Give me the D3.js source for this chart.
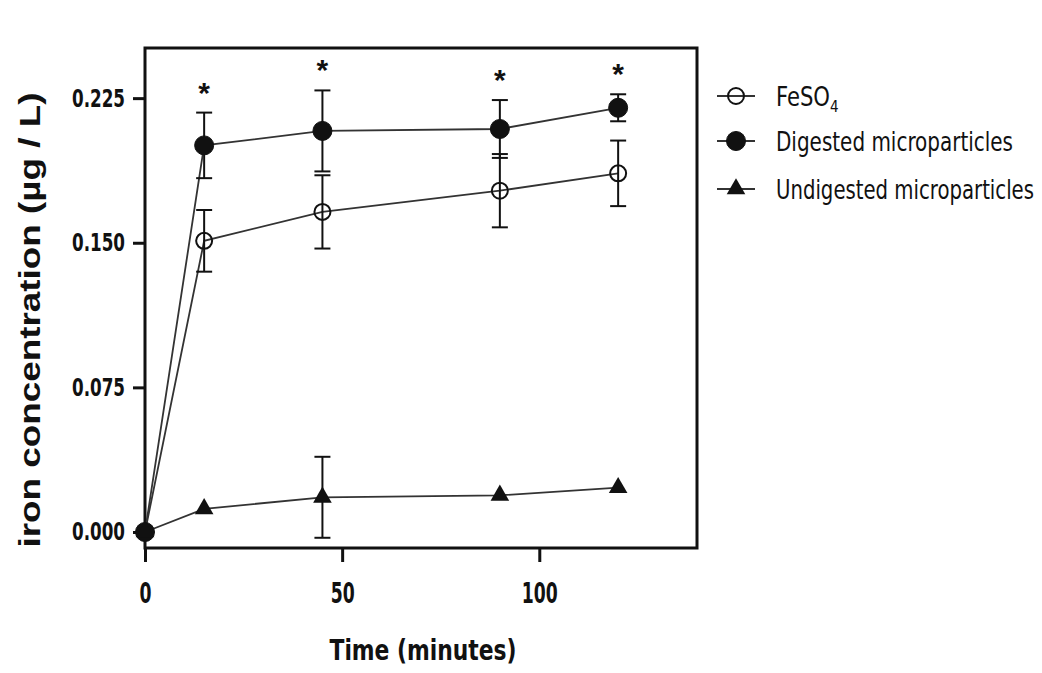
<!DOCTYPE html>
<html>
<head>
<meta charset="utf-8">
<script src="https://cdn.jsdelivr.net/npm/d3@7"></script>
<style>
  body { margin: 0; background: #fff; }
  svg { display: block; }
</style>
</head>
<body>
<svg id="chart" width="1042" height="673"></svg>
<script>
// Data
const times = [0, 15, 45, 90, 120];
const feso4 = [0, 0.151, 0.166, 0.177, 0.186];
const feso4Err = [0, 0.016, 0.019, 0.019, 0.017];
const digested = [0, 0.2005, 0.208, 0.209, 0.220];
const digestedErr = [0, 0.017, 0.021, 0.015, 0.007];
const undigested = [0, 0.012, 0.018, 0.019, 0.023];
const undigestedErr = [0, 0, 0.021, 0, 0];
const starTimes = [15, 45, 90, 120];
const yTicks = [0, 0.075, 0.15, 0.225];
const xTicks = [0, 50, 100];
const seriesNames = ["FeSO4", "Digested microparticles", "Undigested microparticles"];

const svg = d3.select("#chart");
const narrow = "'Liberation Sans Narrow', 'DejaVu Sans Condensed', Arial, sans-serif";
const ink = "#111";

// Scales
const x = d3.scaleLinear().domain([0, 140]).range([145, 697]);
const y = d3.scaleLinear().domain([-0.0083, 0.251]).range([548, 48]);

// Plot box
svg.append("rect")
  .attr("x", x(0)).attr("y", y(0.251))
  .attr("width", x(140) - x(0)).attr("height", y(-0.0083) - y(0.251))
  .attr("fill", "none").attr("stroke", ink).attr("stroke-width", 3);

// Axes
const yAxis = svg.append("g")
  .attr("transform", `translate(${x(0)},0)`)
  .call(d3.axisLeft(y).tickValues(yTicks).tickSize(12).tickPadding(8).tickFormat(d3.format(".3f")));
const xAxis = svg.append("g")
  .attr("transform", `translate(0,${y(-0.0083)})`)
  .call(d3.axisBottom(x).tickValues(xTicks).tickSize(14).tickPadding(21));

[yAxis, xAxis].forEach(ax => {
  ax.select(".domain").remove();
  ax.selectAll(".tick line").attr("stroke", ink).attr("stroke-width", 3);
  ax.selectAll(".tick text")
    .attr("fill", ink)
    .style("font-family", narrow)
    .style("font-weight", "bold")
    .style("font-size", "25px");
});
yAxis.selectAll(".tick text").attr("textLength", 53).attr("lengthAdjust", "spacingAndGlyphs");
xAxis.selectAll(".tick text")
  .style("font-size", "28px")
  .attr("textLength", d => String(d).length * 12)
  .attr("lengthAdjust", "spacingAndGlyphs");

// Axis titles
svg.append("text")
  .attr("x", 423).attr("y", 660)
  .attr("text-anchor", "middle")
  .attr("textLength", 187).attr("lengthAdjust", "spacingAndGlyphs")
  .style("font-family", narrow).style("font-weight", "bold").style("font-size", "29px")
  .attr("fill", ink)
  .text("Time (minutes)");

svg.append("text")
  .attr("transform", "translate(40,320) rotate(-90)")
  .attr("text-anchor", "middle")
  .attr("textLength", 455).attr("lengthAdjust", "spacingAndGlyphs")
  .style("font-family", "'Liberation Sans', Arial, sans-serif").style("font-weight", "bold").style("font-size", "30px")
  .attr("fill", ink)
  .text("iron concentration (µg / L)");

// Series
const series = [
  { name: seriesNames[0], vals: feso4, errs: feso4Err, shape: "open", w: 68 },
  { name: seriesNames[1], vals: digested, errs: digestedErr, shape: "filled", w: 237 },
  { name: seriesNames[2], vals: undigested, errs: undigestedErr, shape: "triangle", w: 258 }
];

const line = d3.line().x(d => x(d.t)).y(d => y(d.v));
const capW = 8;

series.forEach(s => {
  const pts = times.map((t, i) => ({ t, v: s.vals[i], e: s.errs[i] }));

  svg.append("path")
    .datum(pts)
    .attr("d", line)
    .attr("fill", "none").attr("stroke", "#333").attr("stroke-width", 1.8);

  const eb = svg.append("g").selectAll("g").data(pts.filter(d => d.e > 0)).join("g")
    .attr("stroke", ink).attr("stroke-width", 2);
  eb.append("line")
    .attr("x1", d => x(d.t)).attr("x2", d => x(d.t))
    .attr("y1", d => y(d.v - d.e)).attr("y2", d => y(d.v + d.e));
  eb.append("line")
    .attr("x1", d => x(d.t) - capW).attr("x2", d => x(d.t) + capW)
    .attr("y1", d => y(d.v + d.e)).attr("y2", d => y(d.v + d.e));
  eb.append("line")
    .attr("x1", d => x(d.t) - capW).attr("x2", d => x(d.t) + capW)
    .attr("y1", d => y(d.v - d.e)).attr("y2", d => y(d.v - d.e));

  s.pts = pts;
});

function drawMarker(g, shape, cx, cy) {
  if (shape === "triangle") {
    g.append("path")
      .attr("d", d3.symbol().type(d3.symbolTriangle).size(150)())
      .attr("transform", `translate(${cx},${cy})`)
      .attr("fill", ink);
  } else {
    g.append("circle")
      .attr("cx", cx).attr("cy", cy)
      .attr("r", shape === "open" ? 8 : 9.5)
      .attr("fill", shape === "open" ? "none" : ink)
      .attr("stroke", ink).attr("stroke-width", shape === "open" ? 2 : 1);
  }
}

series.forEach(s => {
  const g = svg.append("g");
  s.pts.forEach(d => drawMarker(g, s.shape, x(d.t), y(d.v)));
});

// Significance stars above the digested error bars
svg.append("g").selectAll("text")
  .data(starTimes)
  .join("text")
  .attr("x", d => x(d))
  .attr("y", d => {
    const i = times.indexOf(d);
    return y(digested[i] + digestedErr[i]) - 10;
  })
  .attr("text-anchor", "middle")
  .style("font-family", "'Liberation Sans', Arial, sans-serif")
  .style("font-weight", "bold").style("font-size", "30px")
  .attr("fill", ink)
  .text("*");

// Legend
const legendRows = [96, 141, 189];
series.forEach((s, i) => {
  const g = svg.append("g");
  const ly = legendRows[i];
  g.append("line")
    .attr("x1", 717).attr("x2", 755).attr("y1", ly).attr("y2", ly)
    .attr("stroke", "#333").attr("stroke-width", 2);
  drawMarker(g, s.shape, 736, ly);
  const t = g.append("text")
    .attr("x", 776).attr("y", ly + 10)
    .style("font-family", narrow).style("font-size", "27px")
    .attr("fill", ink);
  if (i === 0) {
    t.append("tspan").attr("textLength", 54).attr("lengthAdjust", "spacingAndGlyphs").text("FeSO");
    t.append("tspan").attr("dy", 6).style("font-size", "15px").text("4");
  } else {
    t.attr("textLength", s.w).attr("lengthAdjust", "spacingAndGlyphs").text(s.name);
  }
});
</script>
</body>
</html>
